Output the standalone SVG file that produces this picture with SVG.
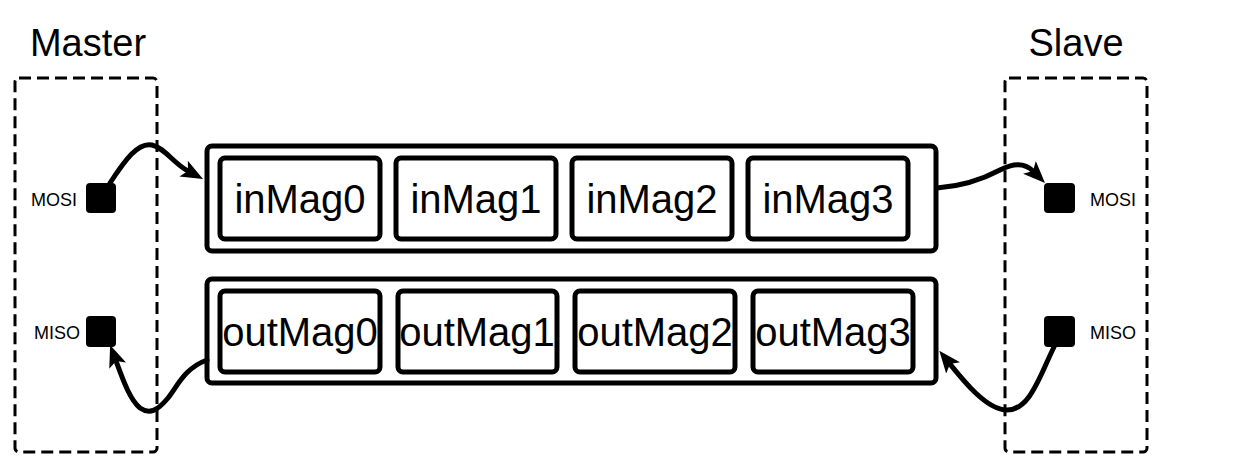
<svg xmlns="http://www.w3.org/2000/svg" width="1242" height="468" viewBox="0 0 1242 468">
  <style>
    .dash { fill: none; stroke: #000; stroke-width: 3; stroke-dasharray: 12 6; }
    .outer { fill: #fff; stroke: #000; stroke-width: 5; }
    .inner { fill: #fff; stroke: #000; stroke-width: 5; }
    .pin { fill: #000; }
    .title { font-family: "Liberation Sans", Arial, sans-serif; font-size: 38px; fill: #000; text-anchor: middle; }
    .lbl { font-family: "Liberation Sans", Arial, sans-serif; font-size: 40px; fill: #000; text-anchor: middle; }
    .pinlbl { font-family: "Liberation Sans", Arial, sans-serif; font-size: 18px; fill: #000; }
    .conn { fill: none; stroke: #000; stroke-width: 5; stroke-linecap: round; marker-end: url(#arrow); }
  </style>
  <defs>
    <marker id="arrow" markerUnits="userSpaceOnUse" markerWidth="22" markerHeight="18" refX="5" refY="9" orient="auto">
      <path d="M0,0 L22,9 L0,18 L5,9 z" fill="#000"/>
    </marker>
  </defs>
  <rect width="1242" height="468" fill="#fff"/>

  <g id="master">
    <rect class="dash" x="15" y="78" width="142" height="374" rx="4"/>
    <text class="title" x="88" y="56">Master</text>
    <rect class="pin" x="86" y="183" width="30" height="30" rx="4"/>
    <text class="pinlbl" x="77" y="206" text-anchor="end">MOSI</text>
    <rect class="pin" x="86" y="316" width="30" height="31" rx="4"/>
    <text class="pinlbl" x="80" y="339" text-anchor="end">MISO</text>
  </g>

  <g id="slave">
    <rect class="dash" x="1005" y="78" width="142" height="374" rx="4"/>
    <text class="title" x="1076" y="56">Slave</text>
    <rect class="pin" x="1044" y="183" width="31" height="30" rx="4"/>
    <text class="pinlbl" x="1090" y="206">MOSI</text>
    <rect class="pin" x="1044" y="316" width="31" height="31" rx="4"/>
    <text class="pinlbl" x="1090" y="339">MISO</text>
  </g>

  <g id="inBuffer">
    <rect class="outer" x="207" y="146" width="729" height="105" rx="5"/>
    <g id="inMag0"><rect class="inner" x="220" y="158" width="160" height="81" rx="5"/><text class="lbl" x="300" y="213">inMag0</text></g>
    <g id="inMag1"><rect class="inner" x="396" y="158" width="160" height="81" rx="5"/><text class="lbl" x="476" y="213">inMag1</text></g>
    <g id="inMag2"><rect class="inner" x="572" y="158" width="160" height="81" rx="5"/><text class="lbl" x="652" y="213">inMag2</text></g>
    <g id="inMag3"><rect class="inner" x="748" y="158" width="160" height="81" rx="5"/><text class="lbl" x="828" y="213">inMag3</text></g>
  </g>

  <g id="outBuffer">
    <rect class="outer" x="207" y="279" width="729" height="104" rx="5"/>
    <g id="outMag0"><rect class="inner" x="220" y="291" width="160" height="81" rx="5"/><text class="lbl" x="300" y="346">outMag0</text></g>
    <g id="outMag1"><rect class="inner" x="398" y="291" width="159" height="81" rx="5"/><text class="lbl" x="477" y="346">outMag1</text></g>
    <g id="outMag2"><rect class="inner" x="575" y="291" width="160" height="81" rx="5"/><text class="lbl" x="655" y="346">outMag2</text></g>
    <g id="outMag3"><rect class="inner" x="753" y="291" width="160" height="81" rx="5"/><text class="lbl" x="833" y="346">outMag3</text></g>
  </g>

  <g id="connectors">
    <path class="conn" d="M110,183 C125,160 138,142 152,145 C165,148 173,163 188,171"/>
    <path class="conn" d="M937,188 C965,186 985,178 1000,170 C1015,162 1026,164 1033,171"/>
    <path class="conn" d="M1054,347 C1040,375 1030,412 1005,410 C985,408 963,380 950,364"/>
    <path class="conn" d="M207,360 C185,368 178,385 168,398 C158,410 150,415 140,408 C130,400 123,380 116,361"/>
  </g>
</svg>
